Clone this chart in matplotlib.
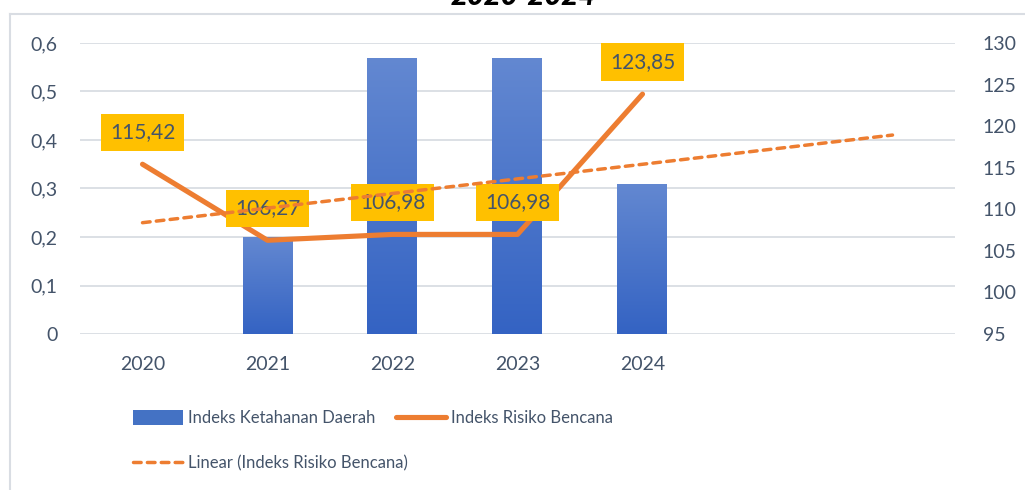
import matplotlib
matplotlib.use("Agg")
import matplotlib.pyplot as plt
import numpy as np
from matplotlib.lines import Line2D
from matplotlib.patches import Patch
from matplotlib.ticker import FuncFormatter, MultipleLocator

plt.rcParams['font.family'] = ['Lato', 'DejaVu Sans']

years = ['2020', '2021', '2022', '2023', '2024']
ketahanan = [0, 0.20, 0.57, 0.57, 0.31]
risiko = [115.42, 106.27, 106.98, 106.98, 123.85]
forecast_periods = 2

text_col = '#44546A'
grid_col = '#D9DDE3'
orange = '#ED7D31'

fig = plt.figure(figsize=(10.25, 4.9), dpi=100)
ax = fig.add_axes([80 / 1025, 1 - 334 / 490, 875 / 1025, 291 / 490])
ax2 = ax.twinx()

x = np.arange(len(years))

# bars with a soft vertical gradient
bars = ax.bar(x, ketahanan, width=0.4, color='#4472C4', zorder=2)
grad = np.linspace(0, 1, 256).reshape(-1, 1)
cmap = matplotlib.colors.LinearSegmentedColormap.from_list('g', ['#3463C3', '#6388D1'])
for b in bars:
    if b.get_height() <= 0:
        continue
    b.set_facecolor('none')
    im = ax.imshow(grad, cmap=cmap, origin='lower', aspect='auto', zorder=2,
                   extent=[b.get_x(), b.get_x() + b.get_width(), 0, b.get_height()])
    im.set_clip_path(b)

ax.set_xlim(-0.5, len(years) + forecast_periods - 0.5)
ax.set_ylim(0, 0.6)
ax.yaxis.set_major_locator(MultipleLocator(0.1))
ax.yaxis.set_major_formatter(FuncFormatter(lambda v, p: '0' if abs(v) < 1e-9 else f'{v:.1f}'.replace('.', ',')))
ax.set_xticks(x)
ax.set_xticklabels(years)
ax.grid(axis='y', color=grid_col, lw=1.3, zorder=0)
ax.set_axisbelow(True)

ax2.set_ylim(95, 130)
ax2.yaxis.set_major_locator(MultipleLocator(5))

for a in (ax, ax2):
    for s in a.spines.values():
        s.set_visible(False)
ax.tick_params(axis='y', length=0, pad=16, labelsize=14, labelcolor=text_col)
ax.tick_params(axis='x', length=0, pad=16, labelsize=14, labelcolor=text_col)
ax2.tick_params(axis='y', length=0, pad=20, labelsize=14, labelcolor=text_col)

# risk line
ax2.plot(x, risiko, color=orange, lw=3.7, solid_capstyle='round', solid_joinstyle='round', zorder=3)

# labels
for xi, v in zip(x, risiko):
    ax2.annotate(f'{v:.2f}'.replace('.', ','), (xi, v), xytext=(0, 23), textcoords='offset points',
                 ha='center', va='center', fontsize=15, color=text_col, zorder=4,
                 bbox=dict(boxstyle='square,pad=0.42', fc='#FFC000', ec='none'))

# linear trend (Excel style, forecast forward)
slope, intercept = np.polyfit(x, risiko, 1)
xt = np.arange(len(years) + forecast_periods)
ax2.plot(xt, slope * xt + intercept, color=orange, lw=2.5, ls=(0, (2.2, 1.8)),
         dash_capstyle='round', zorder=5)

# legend
h_bar = Patch(facecolor='#4472C4', edgecolor='none')
h_line = Line2D([], [], color=orange, lw=3.7, solid_capstyle='round')
h_trend = Line2D([], [], color=orange, lw=2.5, ls=(0, (2.2, 1.8)), dash_capstyle='round')
items = [(h_bar, 'Indeks Ketahanan Daerah', 133, 418),
         (h_line, 'Indeks Risiko Bencana', 396, 418),
         (h_trend, 'Linear (Indeks Risiko Bencana)', 133, 463)]
for h, lab, px, py in items:
    lg = fig.legend([h], [lab], loc='center left', bbox_to_anchor=(px / 1025, 1 - py / 490),
                    frameon=False, fontsize=12, borderpad=0, borderaxespad=0,
                    handlelength=3.0, handleheight=1.0, handletextpad=0.3)
    for t in lg.get_texts():
        t.set_color(text_col)

# chart frame and cropped title
fig.add_artist(Line2D([10 / 1025, 10 / 1025], [0, 1 - 14 / 490], color=grid_col, lw=1.5))
fig.add_artist(Line2D([10 / 1025, 1], [1 - 14 / 490, 1 - 14 / 490], color=grid_col, lw=1.5))
fig.text(523 / 1025, 1 - 5 / 490, '2020-2024', ha='center', va='baseline',
         fontsize=21, fontweight='heavy', fontstyle='italic', color='black')

fig.savefig('out.png', dpi=100)
